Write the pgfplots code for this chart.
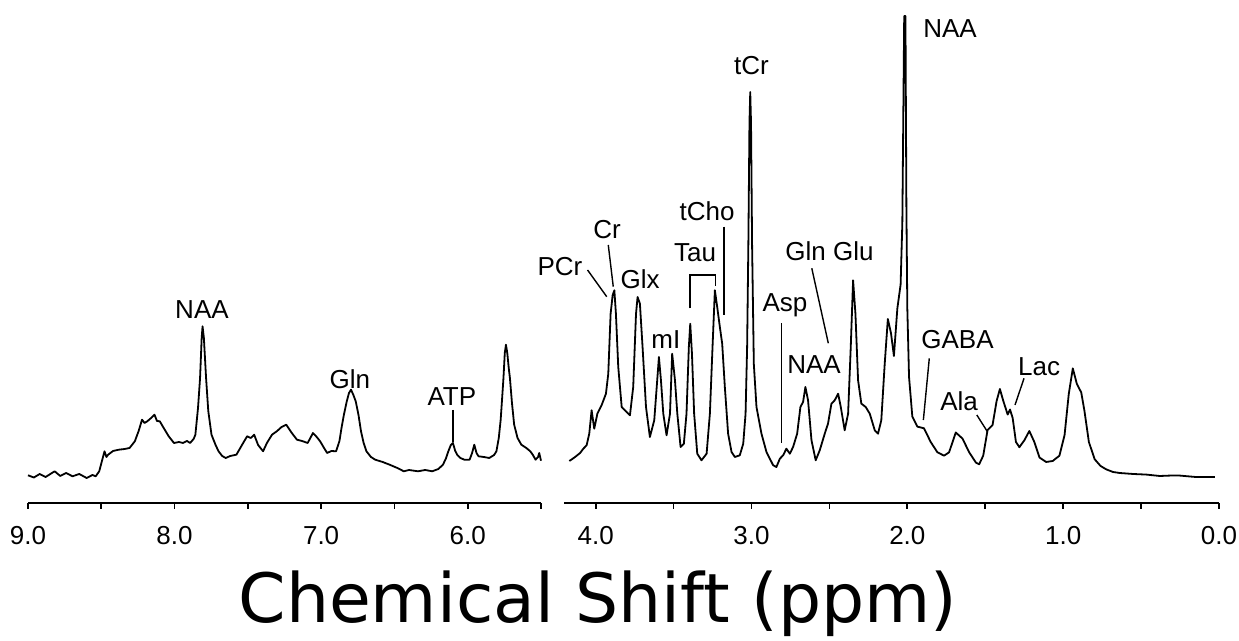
\documentclass[border=0pt]{standalone}
\usepackage{fontspec}
\setmainfont{Liberation Sans}
\newfontfamily\titlefont{DejaVu Sans}
\usepackage{pgfplots}
\pgfplotsset{compat=1.18}

\pgfplotsset{
  spec/.style={
    scale only axis, height=245pt, ymin=0, ymax=490,
    x dir=reverse, axis x line*=bottom, axis y line=none,
    tick align=outside, major tick length=3pt, minor tick length=3pt,
    tick style={black, line width=0.9pt},
    axis line style={line width=1.3pt},
    xticklabel style={font=\fontsize{13}{13}\selectfont, yshift=-5pt},
    xticklabel={\pgfmathprintnumber[fixed,fixed zerofill,precision=1,assume math mode=true]{\tick}},
    clip=false,
  },
  trace/.style={black, line width=0.9pt, line join=round},
}
\tikzset{
  lbl/.style={font=\fontsize{13}{13}\selectfont, anchor=base, inner sep=0pt},
  lead/.style={black, line width=0.7pt},
}

\begin{document}
\begin{tikzpicture}
\useasboundingbox (-14pt,-69pt) rectangle (605.5pt,251.5pt);

% left panel, 9.0 - 5.5 ppm
\begin{axis}[spec, at={(0pt,0pt)}, anchor=south west, width=256.5pt,
    xmin=5.5, xmax=9.0, xtick={6,7,8,9}, minor xtick={5.5,6.5,7.5,8.5}]
\addplot[trace] coordinates {
(9.000,27.7) (8.960,25.5) (8.920,29) (8.880,26) (8.818,31.7) (8.780,27) (8.740,30)
(8.696,26.7) (8.650,29) (8.600,25) (8.560,28) (8.538,26.7) (8.514,31.7) (8.490,45)
(8.478,51.7) (8.465,46) (8.453,48.3) (8.420,52) (8.380,53.3) (8.340,54) (8.307,55)
(8.271,61.7) (8.245,72) (8.222,83.3) (8.205,80) (8.186,81.7) (8.160,85) (8.137,88.3)
(8.120,82) (8.101,81.7) (8.070,74) (8.040,66.7) (8.004,60) (7.970,61) (7.943,60)
(7.915,62) (7.894,60) (7.870,64) (7.858,68.3) (7.840,95) (7.826,125) (7.815,165)
(7.809,176.7) (7.800,165) (7.785,125) (7.770,92) (7.748,68.3) (7.720,58) (7.700,51.7)
(7.675,47) (7.651,45) (7.620,47) (7.578,48.3) (7.540,58) (7.505,66.7) (7.480,65)
(7.457,68.3) (7.430,58) (7.396,51.7) (7.370,60) (7.335,68.3) (7.300,72) (7.270,76)
(7.238,78.3) (7.200,70) (7.165,63.3) (7.130,62) (7.092,60) (7.070,66) (7.056,70)
(7.030,66) (7.007,61.7) (6.980,55) (6.959,50) (6.930,52) (6.898,51.7) (6.875,62)
(6.861,75) (6.845,88) (6.825,101.7) (6.810,110) (6.796,113.3) (6.780,108) (6.764,101.7)
(6.745,88) (6.728,71.7) (6.710,60) (6.691,51.7) (6.660,46) (6.631,43.3) (6.580,41)
(6.533,38.3) (6.480,35) (6.436,31.7) (6.400,33) (6.339,31.7) (6.290,33) (6.242,31.7)
(6.200,34) (6.169,38.3) (6.150,44) (6.132,51.7) (6.115,58) (6.101,60) (6.085,52)
(6.072,48.3) (6.050,45) (6.023,43.3) (5.987,43.3) (5.970,50) (5.955,58.3) (5.940,50)
(5.926,46.7) (5.890,46) (5.853,45) (5.820,48) (5.804,51.7) (5.788,65) (5.775,83.3)
(5.765,105) (5.756,125) (5.747,150) (5.739,158.3) (5.730,150) (5.720,135) (5.712,125)
(5.698,100) (5.683,78.3) (5.660,65) (5.634,58.3) (5.600,55) (5.573,51.7) (5.555,48)
(5.537,43.3) (5.520,46) (5.512,50) (5.500,42.3)
};
\node[lbl] at (axis cs:7.813,184.4) {NAA};
\node[lbl] at (axis cs:6.804,114.4) {Gln};
\node[lbl] at (axis cs:6.108,97.4) {ATP};
\draw[lead] (axis cs:6.101,93) -- (axis cs:6.101,61);
\end{axis}

% right panel, 4.2 - 0.0 ppm
\begin{axis}[spec, at={(268.25pt,0pt)}, anchor=south west, width=327.25pt,
    xmin=0, xmax=4.2, xtick={0,1,2,3,4}, minor xtick={0.5,1.5,2.5,3.5}]
\addplot[trace] coordinates {
(4.169,42) (4.150,44) (4.132,46) (4.100,50) (4.079,54.3) (4.058,57.7) (4.041,69.3)
(4.026,92.7) (4.009,74.3) (3.989,89.3) (3.962,97.7) (3.934,109.3) (3.919,129.3)
(3.904,189.3) (3.891,207.7) (3.880,212.7) (3.870,189.3) (3.855,136) (3.833,96)
(3.812,92.7) (3.780,87.7) (3.759,116) (3.741,189.3) (3.731,206) (3.716,199.3)
(3.699,156) (3.677,96) (3.652,66) (3.624,82.7) (3.605,122.7) (3.594,146) (3.581,122.7)
(3.566,89.3) (3.545,67.7) (3.523,89.3) (3.509,149.3) (3.491,122.7) (3.476,89.3)
(3.455,56) (3.434,59.3) (3.417,89.3) (3.402,156) (3.393,179.3) (3.382,149.3)
(3.368,89.3) (3.348,49.3) (3.321,42.7) (3.288,49.3) (3.267,89.3) (3.250,156)
(3.235,212.7) (3.220,196) (3.203,176) (3.188,159.3) (3.171,116) (3.150,69.3)
(3.128,51) (3.107,46) (3.075,47.7) (3.053,59.3) (3.038,89.3) (3.028,156) (3.020,260)
(3.013,380) (3.008,411) (3.003,380) (2.996,256) (2.985,139) (2.968,96) (2.936,69.3)
(2.904,51) (2.861,37.7) (2.840,36) (2.818,44.3) (2.797,47.7) (2.776,54.3) (2.754,49.3)
(2.733,56) (2.707,69.3) (2.686,96) (2.669,101) (2.654,116) (2.637,102.7) (2.615,62.7)
(2.588,42.7) (2.562,52.7) (2.530,69.3) (2.509,79.3) (2.487,99.3) (2.466,102.7)
(2.444,109.3) (2.427,96) (2.402,72.7) (2.380,89.3) (2.363,156) (2.348,222.7)
(2.333,189.3) (2.316,122.7) (2.295,99.3) (2.267,96) (2.241,89.3) (2.209,72.7)
(2.188,69.3) (2.167,82.7) (2.145,139.3) (2.125,184) (2.105,170) (2.086,147)
(2.064,194.5) (2.043,218.5) (2.032,280) (2.026,383) (2.020,487) (2.012,487)
(2.006,297) (2.000,194.5) (1.989,126) (1.968,86.6) (1.936,76.4) (1.893,74.7)
(1.850,61) (1.807,50.7) (1.764,47.3) (1.732,50.7) (1.689,70.5) (1.646,64.4)
(1.603,50.7) (1.560,40.4) (1.539,38.7) (1.513,47.3) (1.485,73) (1.453,78) (1.427,102)
(1.406,114) (1.384,102) (1.356,88.4) (1.341,93.5) (1.324,85) (1.303,61) (1.281,55.8)
(1.249,62.7) (1.217,72) (1.185,61) (1.152,45.5) (1.109,41) (1.067,42) (1.024,47.3)
(0.991,67.8) (0.964,109) (0.938,134.6) (0.912,119) (0.884,110.6) (0.863,91.8)
(0.835,61) (0.798,43.8) (0.760,37) (0.723,33.6) (0.680,31) (0.637,30) (0.550,29)
(0.466,28.4) (0.380,27) (0.300,27.5) (0.251,27.4) (0.150,26) (0.026,26)
};
\node[lbl] at (axis cs:4.229,227.4) {PCr};
\draw[lead] (axis cs:4.052,233) -- (axis cs:3.929,206.3);
\node[lbl] at (axis cs:3.927,264.4) {Cr};
\draw[lead] (axis cs:3.919,258) -- (axis cs:3.887,216.3);
\node[lbl] at (axis cs:3.715,214.4) {Glx};
\node[lbl] at (axis cs:3.549,154.4) {mI};
\node[lbl] at (axis cs:3.362,241.4) {Tau};
\draw[lead] (axis cs:3.395,194.7) -- (axis cs:3.395,228) -- (axis cs:3.232,228) -- (axis cs:3.232,217);
\node[lbl] at (axis cs:3.285,282.7) {tCho};
\draw[lead] (axis cs:3.176,276.3) -- (axis cs:3.176,188);
\node[lbl] at (axis cs:3.000,428) {tCr};
\node[lbl] at (axis cs:2.785,191) {Asp};
\draw[lead] (axis cs:2.806,179.7) -- (axis cs:2.806,59.7);
\node[lbl] at (axis cs:2.599,129.4) {NAA};
\node[lbl] at (axis cs:2.499,242.7) {Gln Glu};
\draw[lead] (axis cs:2.613,234.7) -- (axis cs:2.507,159.7);
\node[lbl] at (axis cs:1.726,465.6) {NAA};
\node[lbl] at (axis cs:1.678,154.4) {GABA};
\draw[lead] (axis cs:1.859,144.7) -- (axis cs:1.897,83);
\node[lbl] at (axis cs:1.668,92.7) {Ala};
\draw[lead] (axis cs:1.554,88) -- (axis cs:1.486,71.3);
\node[lbl] at (axis cs:1.154,127.7) {Lac};
\draw[lead] (axis cs:1.251,124.7) -- (axis cs:1.309,98);
\end{axis}

\node[anchor=base, inner sep=0pt, font=\titlefont\fontsize{34}{34}\selectfont] at (285pt,-60pt) {Chemical Shift (ppm)};
\end{tikzpicture}
\end{document}
